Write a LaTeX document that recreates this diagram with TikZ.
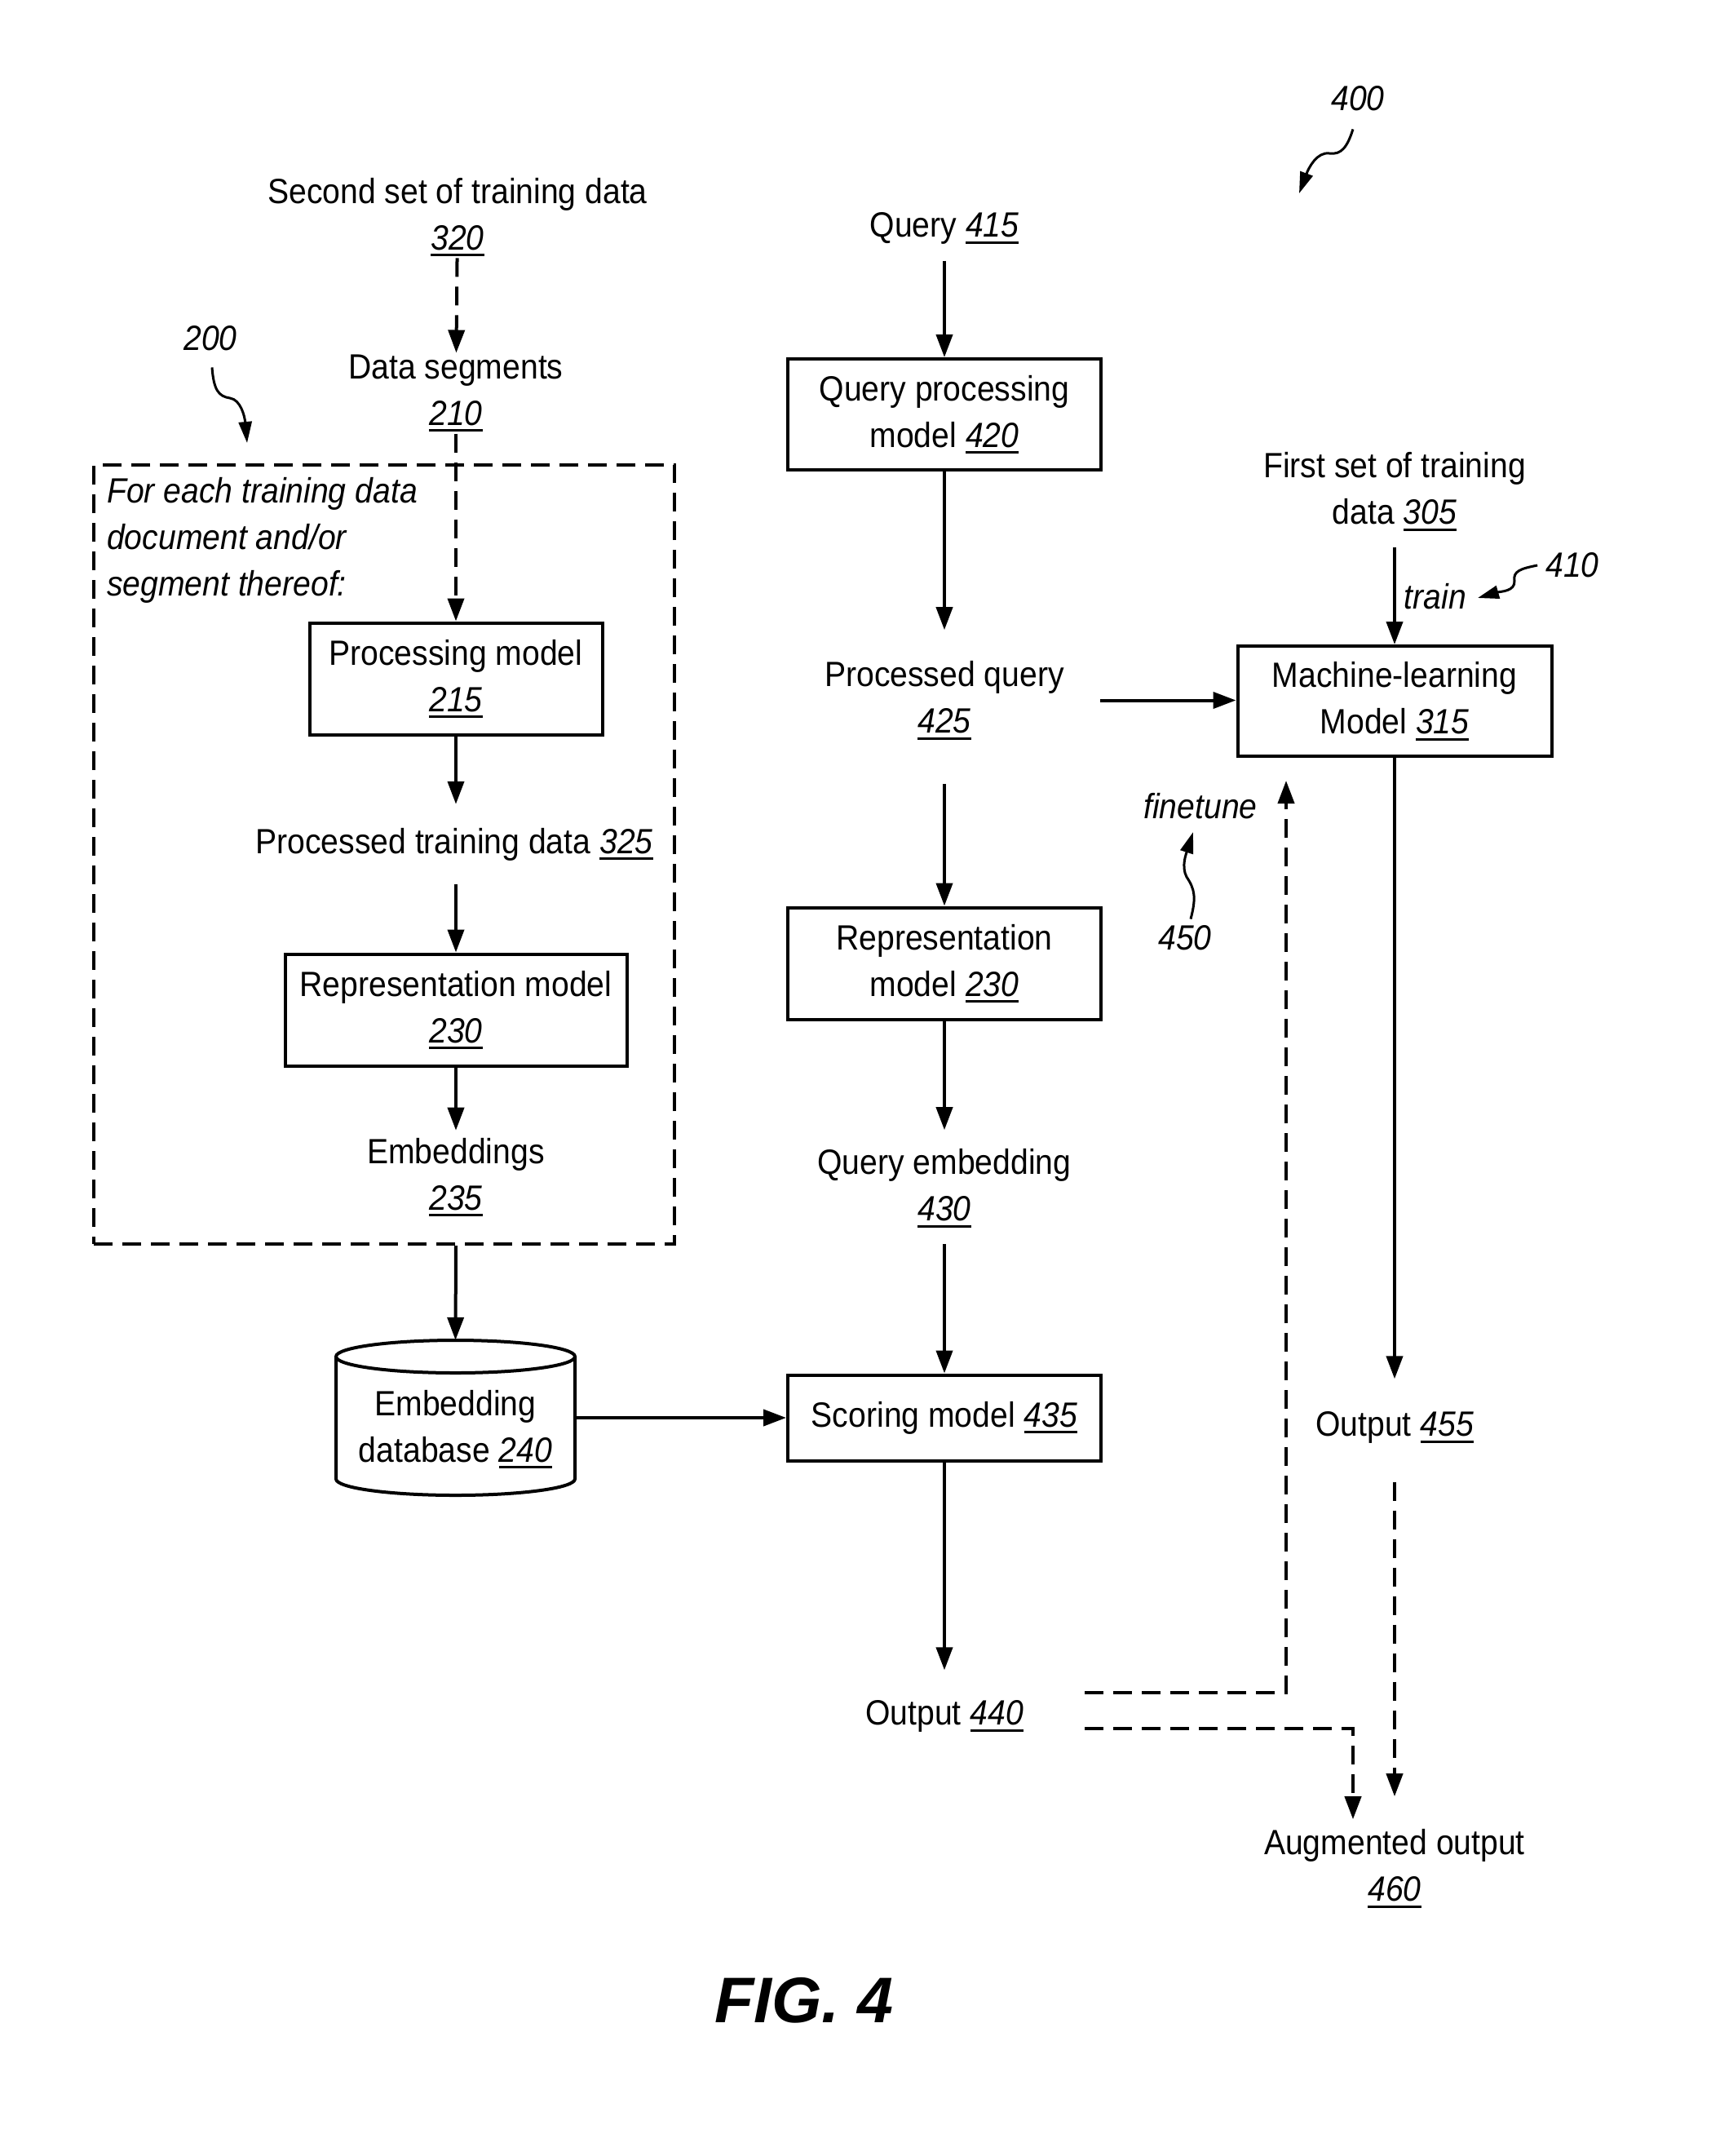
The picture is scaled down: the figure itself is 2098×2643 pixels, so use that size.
\documentclass[tikz,border=0pt]{standalone}
\usepackage{fontspec}
\setmainfont{Liberation Sans}[FakeStretch=0.91]
\newfontfamily\figfont{Liberation Sans}
\usetikzlibrary{arrows.meta,calc}
\newsavebox\numbx
\newcommand\ulnum[1]{\sbox\numbx{\itshape #1}\rlap{\rule[-8pt]{\wd\numbx}{3pt}}\usebox\numbx}
\begin{document}
\begin{tikzpicture}[x=1pt,y=-1pt,
  every node/.style={font=\fontsize{43}{57}\selectfont, inner sep=2pt},
  txt/.style={align=center},
  box/.style={draw, line width=4pt, align=center, inner sep=0pt},
  arr/.style={line width=4pt, -{Triangle[length=28pt,width=20pt]}},
  darr/.style={arr, dash pattern=on 23pt off 12pt},
  dline/.style={line width=4pt, dash pattern=on 23pt off 12pt},
  lead/.style={line width=3pt, -{Triangle[length=26pt,width=16pt]}},
  lbl/.style={font=\fontsize{43}{57}\selectfont\itshape}
]
\useasboundingbox (0,0) rectangle (2098,2643);

% ---------- left column ----------
\node[txt] (sec) at (561,266) {Second set of training data\\\ulnum{320}};
\node[txt] (seg) at (559,482) {Data segments\\\ulnum{210}};
\node[draw, dline, minimum width=712pt, minimum height=955pt, inner sep=0pt] (grp) at (471,1047.5) {};
\node[anchor=north west, align=left, inner sep=0pt, lbl] (each) at (131,585) {For each training data\\document and/or\\segment thereof:};
\node[box, minimum width=359pt, minimum height=137pt] (proc) at (559,832) {Processing model\\\ulnum{215}};
\node[txt] (ptd) at (557,1035) {Processed training data \ulnum{325}};
\node[box, minimum width=419pt, minimum height=137pt] (rep1) at (559,1238) {Representation model\\\ulnum{230}};
\node[txt] (emb) at (559,1443) {Embeddings\\\ulnum{235}};
\node[minimum width=293pt, minimum height=190pt, inner sep=0pt] (db) at (558.5,1738) {};
\draw[line width=4pt] (412,1663) -- (412,1813) arc[start angle=180, end angle=360, x radius=146.5pt, y radius=20pt] -- (705,1663);
\draw[line width=4pt] (558.5,1663) ellipse [x radius=146.5pt, y radius=20pt];
\node[txt] (dbt) at (558.5,1752) {Embedding\\database \ulnum{240}};

% ---------- middle column ----------
\node[txt] (q415) at (1158,280) {Query \ulnum{415}};
\node[box, minimum width=384pt, minimum height=136pt] (qpm) at (1158,508) {Query processing\\model \ulnum{420}};
\node[txt] (pq) at (1158,858.5) {Processed query\\\ulnum{425}};
\node[box, minimum width=384pt, minimum height=137pt] (rep2) at (1158,1181) {Representation\\model \ulnum{230}};
\node[txt] (qe) at (1158,1456.5) {Query embedding\\\ulnum{430}};
\node[box, minimum width=384pt, minimum height=105pt] (score) at (1158,1738) {Scoring model \ulnum{435}};
\node[txt] (o440) at (1158,2104) {Output \ulnum{440}};

% ---------- right column ----------
\node[txt] (first) at (1710,602.5) {First set of training\\data \ulnum{305}};
\node[box, minimum width=385pt, minimum height=135pt] (ml) at (1710,859.5) {Machine-learning\\Model \ulnum{315}};
\node[txt] (o455) at (1710,1750) {Output \ulnum{455}};
\node[txt] (aug) at (1710,2290.5) {Augmented output\\\ulnum{460}};

% ---------- labels ----------
\node[lbl] (l400) at (1665,121) {400};
\node[lbl] (l200) at (258,415) {200};
\node[lbl] (l410) at (1928,693) {410};
\node[lbl] (train) at (1760,731) {train};
\node[lbl] (fine) at (1472,988) {finetune};
\node[lbl] (l450) at (1453,1150) {450};
\node[font=\figfont\fontsize{79}{90}\selectfont\bfseries\itshape] (fig) at (986,2452) {FIG. 4};

\coordinate (t400) at (1593,237);
\coordinate (t200) at (303,543);
\coordinate (t410) at (1812,733);
\coordinate (t450) at (1463,1020);
\coordinate (c1) at (1577,2075);
\coordinate (c2) at (1659,2119);

% ---------- connectors ----------
\draw[darr] (sec) -- (seg);
\draw[darr] (seg) -- (proc);
\draw[arr, shorten >=27pt] (proc) -- (proc |- ptd.north);
\draw[arr, shorten <=27pt] (proc |- ptd.south) -- (rep1);
\draw[arr, shorten >=7pt] (rep1) -- (emb);
\draw[arr] (grp.south -| emb) -- (db.north);
\draw[arr] (db.east) -- (score.west);

\draw[arr, shorten <=18pt] (q415) -- (qpm);
\draw[arr, shorten >=36pt] (qpm) -- (pq);
\draw[arr, shorten <=52pt] (pq) -- (rep2);
\draw[arr, shorten >=21pt] (rep2) -- (qe);
\draw[arr, shorten <=18pt] (qe) -- (score);
\draw[arr, shorten >=35pt] (score) -- (o440);

\draw[arr, shorten <=18pt] (first) -- (ml);
\draw[arr, shorten <=42pt] (pq.east) -- (pq.east -| ml.west);
\draw[arr, shorten >=38pt] (ml) -- (o455);
\draw[darr, shorten <=45pt, shorten >=38pt] (o455) -- (aug);
\draw[darr, shorten >=28pt] ([xshift=73pt,yshift=29pt]o440.east) -- (c1) -- (c1 |- ml.south);
\draw[darr, shorten >=10pt] ([xshift=73pt,yshift=-15pt]o440.east) -- (c2) -- (c2 |- aug.north);

% ---------- leaders ----------
\draw[lead] ([xshift=-6pt,yshift=-20pt]l400.south) .. controls (1652,180) and (1645,190) .. (1630,188) .. controls (1615,186) and (1605,205) .. (t400);
\draw[lead] ([xshift=2pt,yshift=-18pt]l200.south) .. controls (262,478) and (268,486) .. (282,488) .. controls (295,490) and (300,510) .. (t200);
\draw[lead] ([xshift=-8pt]l410.west) .. controls (1865,697) and (1855,700) .. (1857,712) .. controls (1858,725) and (1840,725) .. (t410);
\draw[lead] ([xshift=7pt,yshift=6pt]l450.north) .. controls (1467,1100) and (1465,1090) .. (1455,1075) .. controls (1448,1062) and (1455,1045) .. (t450);
\end{tikzpicture}
\end{document}
